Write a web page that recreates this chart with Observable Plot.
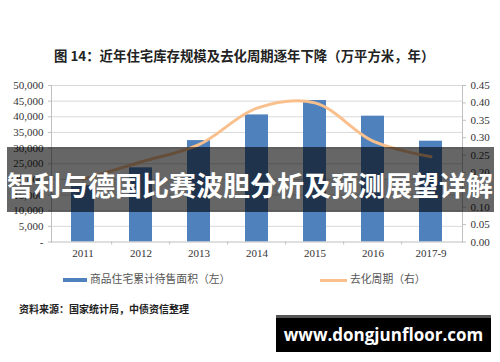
<!DOCTYPE html>
<html><head><meta charset="utf-8">
<script src="https://cdn.jsdelivr.net/npm/d3@7"></script>
<script src="https://cdn.jsdelivr.net/npm/@observablehq/plot@0.6"></script>
<style>
body{margin:0;background:#fff;}
#wrap{position:relative;width:500px;height:362px;overflow:hidden;background:#fff;font-family:"Noto Sans CJK SC",sans-serif;}
#title{position:absolute;left:54px;top:46px;font-size:13.4px;font-weight:bold;color:#222;white-space:nowrap;line-height:18px;}
#chart{position:absolute;left:0;top:70px;}
#legend{position:absolute;left:0;top:270px;width:500px;height:16px;font-size:10.8px;color:#555;}
.li{position:absolute;top:0;line-height:16px;white-space:nowrap;}
.sw{display:inline-block;vertical-align:middle;margin-right:3px;}
#source{position:absolute;left:19px;top:301px;font-size:10px;font-weight:bold;color:#222;line-height:16px;white-space:nowrap;}
#banner{position:absolute;left:7px;top:147px;width:487px;height:65px;background:rgba(0,0,0,0.6);color:#fff;font-weight:bold;font-size:27px;line-height:65px;white-space:nowrap;padding-top:5px;box-sizing:border-box;}
#wm{position:absolute;left:276px;top:315px;width:215px;height:37px;background:#000;border-top:3px solid #555;box-sizing:border-box;color:#fff;font-family:"Open Sans",sans-serif;font-weight:bold;font-size:17px;line-height:34px;text-align:center;}
</style></head><body>
<div id="wrap">
  <div id="title">图 14：近年住宅库存规模及去化周期逐年下降（万平方米，年）</div>
  <div id="chart"></div>
  <div id="legend"></div>
  <div id="source">资料来源：国家统计局，中债资信整理</div>
  <div id="banner">智利与德国比赛波胆分析及预测展望详解</div>
  <div id="wm">www.dongjunfloor.com</div>
</div>
<script>
const categories = ["2011", "2012", "2013", "2014", "2015", "2016", "2017-9"];
const inventory = [18000, 23700, 32400, 40600, 45200, 40200, 32200];
const cycle = [0.18, 0.23, 0.28, 0.385, 0.40, 0.29, 0.245];
const leftTicks = [0, 5000, 10000, 15000, 20000, 25000, 30000, 35000, 40000, 45000, 50000];
const rightTicks = [0, 0.05, 0.10, 0.15, 0.20, 0.25, 0.30, 0.35, 0.40, 0.45];
const seriesNames = ["商品住宅累计待售面积（左）", "去化周期（右）"];
const barColor = "#4f81bd";
const lineColor = "#f9c08e";

const W = 500, H = 200, mL = 51, mR = 38, mT = 15, mB = 28.5;
const k = leftTicks[leftTicks.length - 1] / rightTicks[rightTicks.length - 1];
const rows = categories.map((c, i) => ({c, inv: inventory[i], cyc: cycle[i]}));
const step = (W - mL - mR) / categories.length;

const plot = Plot.plot({
  width: W, height: H,
  marginLeft: mL, marginRight: mR, marginTop: mT, marginBottom: mB,
  style: {fontFamily: "'Liberation Serif', serif", fontSize: "11px", color: "#333", background: "transparent"},
  x: {domain: categories, paddingInner: 0.61, paddingOuter: 0.305},
  y: {domain: [leftTicks[0], leftTicks[leftTicks.length - 1]]},
  marks: [
    Plot.gridY(leftTicks.slice(1), {stroke: "#d9d9d9", strokeOpacity: 1}),
    Plot.barY(rows, {x: "c", y: "inv", fill: barColor}),
    Plot.lineY(rows, {x: "c", y: d => d.cyc * k, stroke: lineColor, strokeWidth: 3, curve: "catmull-rom"}),
    Plot.axisY(leftTicks, {anchor: "left", tickSize: 3, tickPadding: 5, stroke: "#bfbfbf", tickFormat: d => d === 0 ? "-" : d3.format(",")(d), label: null}),
    Plot.axisY(rightTicks, {anchor: "right", y: d => d * k, tickSize: 3, tickPadding: 5, stroke: "#bfbfbf", tickFormat: d => d.toFixed(2), label: null}),
    Plot.axisX({tickSize: 0, tickPadding: 7, label: null}),
    Plot.frame({anchor: "left", stroke: "#bfbfbf"}),
    Plot.frame({anchor: "right", stroke: "#bfbfbf"}),
    Plot.frame({anchor: "bottom", stroke: "#bfbfbf"}),
    Plot.ruleX(categories.slice(1), {x: d => d, y1: 0, y2: 0, insetBottom: -3, dx: -step / 2, stroke: "#bfbfbf"})
  ]
});
document.getElementById("chart").appendChild(plot);

const legend = document.getElementById("legend");
const lx = [63, 320];
const sw = [{w: 24, h: 4, c: barColor}, {w: 27, h: 3, c: lineColor}];
seriesNames.forEach((name, i) => {
  const el = document.createElement("div");
  el.className = "li";
  el.style.left = lx[i] + "px";
  el.innerHTML = `<span class="sw" style="width:${sw[i].w}px;height:${sw[i].h}px;background:${sw[i].c}"></span>${name}`;
  legend.appendChild(el);
});
</script>
</body></html>
